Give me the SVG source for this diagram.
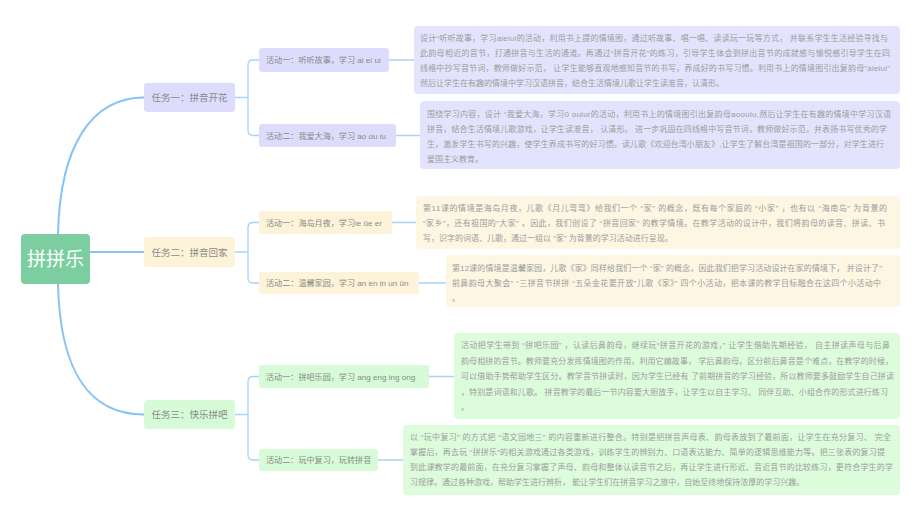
<svg xmlns="http://www.w3.org/2000/svg" width="920" height="518" viewBox="0 0 920 518">
<style>
.t{font-family:"Liberation Sans","Noto Sans CJK SC",sans-serif;}
.note{font-size:8px;fill:#9c9c9c;}
.act{font-size:8.1px;fill:#8a8a8a;}
.task{font-size:9.5px;fill:#8a8a8a;}
.root{font-size:19px;fill:#ffffff;}
.lav{fill:#dedcfd;}
.lavn{fill:#e4e3fd;}
.yel{fill:#fdf3d8;}
.yeln{fill:#fdf6e2;}
.grn{fill:#d6fbd6;}
.grnn{fill:#dcfcdc;}
.main{fill:none;stroke:#86c3f4;stroke-width:2;}
.br{fill:none;stroke:#a9d3f5;stroke-width:1.3;}
</style>
<rect width="920" height="518" fill="#ffffff"/>
<g id="connectors">
<path class="main" d="M58,234 C60,145 92,97.5 144,97.5"/>
<path class="main" d="M90,252 H144"/>
<path class="main" d="M58,284 C60,375 92,414.5 144,414.5"/>
<path class="br" d="M235,97.5 H248 M259,60 H253 Q248,60 248,65 V130.5 Q248,135.5 253,135.5 H259"/>
<path class="br" d="M235,252 H248 M259,222.5 H253 Q248,222.5 248,227.5 V278 Q248,283 253,283 H259"/>
<path class="br" d="M235,414.5 H248 M259,376.5 H253 Q248,376.5 248,381.5 V455 Q248,460 253,460 H259"/>
<path class="br" d="M389,60 H414 M396,135.5 H420 M392,222.5 H416 M419,283 H446 M429,376.5 H454 M378,460 H403"/>
</g>
<g id="root">
<rect x="21" y="234" width="69" height="50" rx="4" fill="#7ccea0"/>
<text class="t root" x="55.5" y="266" text-anchor="middle">拼拼乐</text>
</g>
<g id="task1">
<rect class="lav" x="144" y="83" width="91" height="29" rx="3"/>
<text class="t task" x="189.5" y="101" text-anchor="middle">任务一：拼音开花</text>
</g>
<g id="task2">
<rect class="yel" x="144" y="237" width="91" height="30" rx="3"/>
<text class="t task" x="189.5" y="255.5" text-anchor="middle">任务二：拼音回家</text>
</g>
<g id="task3">
<rect class="grn" x="144" y="400" width="91" height="29" rx="3"/>
<text class="t task" x="189.5" y="418" text-anchor="middle">任务三：快乐拼吧</text>
</g>
<g id="act1-1">
<rect class="lav" x="259" y="48" width="130" height="24" rx="3"/>
<text class="t act" x="266" y="63">活动一：听听故事，学习 ai ei ui</text>
</g>
<g id="act1-2">
<rect class="lav" x="259" y="124" width="137" height="23" rx="3"/>
<text class="t act" x="266" y="138.5">活动二：我爱大海，学习 ao ou iu</text>
</g>
<g id="act2-1">
<rect class="yel" x="259" y="211" width="133" height="23" rx="3"/>
<text class="t act" x="266" y="225.5">活动一：海岛月夜，学习ie üe er</text>
</g>
<g id="act2-2">
<rect class="yel" x="259" y="272" width="160" height="22" rx="3"/>
<text class="t act" x="266" y="286">活动二：温馨家园，学习 an en in un ün</text>
</g>
<g id="act3-1">
<rect class="grn" x="259" y="365" width="170" height="23" rx="3"/>
<text class="t act" x="266" y="379.5">活动一：拼吧乐园，学习 ang eng ing ong</text>
</g>
<g id="act3-2">
<rect class="grn" x="259" y="449" width="119" height="22" rx="3"/>
<text class="t act" x="266" y="463">活动二：玩中复习，玩转拼音</text>
</g>
<g id="note1-1">
<rect class="lavn" x="414" y="26" width="486" height="68" rx="4"/>
<text class="t note" x="420" y="40.5" textLength="468">设计“听听故事，学习aieiui的活动，利用书上提的情境图，通过听故事、唱一唱、读读玩一玩等方式， 并联系学生生活经验寻找与</text>
<text class="t note" x="420" y="55.5" textLength="470">此韵母相近的音节，打通拼音与生活的通道。再通过“拼音开花”的练习，引导学生体会到拼出音节的成就感与愉悦感引导学生在四</text>
<text class="t note" x="420" y="70.5" textLength="470">线格中抄写音节词，教师做好示范， 让学生能够直观地感知音节的书写，养成好的书写习惯。利用书上的情境图引出复韵母"aieiui"</text>
<text class="t note" x="420" y="85.5">然后让学生在有趣的情境中学习汉语拼音，结合生活情境儿歌让学生读准音，认清形。</text>
</g>
<g id="note1-2">
<rect class="lavn" x="420" y="101" width="480" height="68" rx="4"/>
<text class="t note" x="427" y="116.5" textLength="464">围绕学习内容，设计 “我爱大海，学习0 ouiur的活动，利用书上的情境图引出复韵母aoouiu,然后让学生在有趣的情境中学习汉语</text>
<text class="t note" x="427" y="131.5" textLength="460">拼音，结合生活情境儿歌游戏，让学生读准音， 认清形。 进一步巩固在四线格中写音节词，教师做好示范，并表扬书写优秀的学</text>
<text class="t note" x="427" y="146.5" textLength="457">生，激发学生书写的兴趣，使学生养成书写的好习惯。读儿歌《欢迎台湾小朋友》,让学生了解台湾是祖国的一部分，对学生进行</text>
<text class="t note" x="427" y="161.5">爱国主义教育。</text>
</g>
<g id="note2-1">
<rect class="yeln" x="416" y="196" width="484" height="53" rx="4"/>
<text class="t note" x="423" y="211" textLength="464">第11课的情境是海岛月夜，儿歌《月儿弯弯》给我们一个 “家” 的概念，既有每个家庭的 “小家” ，也有以 “海南岛” 为背景的</text>
<text class="t note" x="423" y="226" textLength="462"> “家乡”，还有祖国的“大家” 。因此，我们创设了 “拼音回家” 的教学情境。在教学活动的设计中，我们将韵母的读音、拼读、书</text>
<text class="t note" x="423" y="241">写，识字的词语、儿歌，通过一组以 “家” 为背景的学习活动进行呈现。</text>
</g>
<g id="note2-2">
<rect class="yeln" x="446" y="255" width="454" height="52" rx="4"/>
<text class="t note" x="452" y="271" textLength="430">第12课的情境是温馨家园，儿歌《家》同样给我们一个 “家” 的概念，因此我们把学习活动设计在家的情境下， 并设计了"</text>
<text class="t note" x="452" y="286" textLength="429">前鼻韵母大聚会” “三拼音节拼拼 “五朵金花要开放”儿歌《家》” 四个小活动，把本课的教学目标融合在这四个小活动中</text>
<text class="t note" x="452" y="301">。</text>
</g>
<g id="note3-1">
<rect class="grnn" x="454" y="333" width="446" height="86" rx="4"/>
<text class="t note" x="461" y="348" textLength="429">活动把学生带到 “拼吧乐园” ，认读后鼻韵母，继续玩“拼音开花的游戏，” 让学生借助先期经验， 自主拼读声母与后鼻</text>
<text class="t note" x="461" y="363.5" textLength="432">韵母相拼的音节。教师要充分发挥情境图的作用，利用它编故事， 学后鼻韵母。区分前后鼻音是个难点，在教学的时候，</text>
<text class="t note" x="461" y="379" textLength="433">可以借助手势帮助学生区分。教学音节拼读时，因为学生已经有 了前期拼音的学习经验，所以教师要多鼓励学生自己拼读</text>
<text class="t note" x="461" y="394.5" textLength="427">，特别是词语和儿歌。 拼音教学的最后一节内容要大胆放手，让学生以自主学习、 同伴互助、小组合作的形式进行练习</text>
<text class="t note" x="461" y="410">。</text>
</g>
<g id="note3-2">
<rect class="grnn" x="403" y="425" width="497" height="70" rx="4"/>
<text class="t note" x="410" y="440" textLength="481">以 “玩中复习” 的方式把 “语文园地三” 的内容重新进行整合。特别是把拼音声母表、韵母表放到了最前面，让学生在充分复习、 完全</text>
<text class="t note" x="410" y="455" textLength="475">掌握后，再去玩 “拼拼乐”的相关游戏通过各类游戏，训练学生的辨别力、口语表达能力、简单的逻辑思维能力等。把三张表的复习提</text>
<text class="t note" x="410" y="470" textLength="483">到此课教学的最前面，在充分复习掌握了声母、韵母和整体认读音节之后，再让学生进行形近、音近音节的比较练习，更符合学生的学</text>
<text class="t note" x="410" y="485">习规律。通过各种游戏，帮助学生进行辨析， 能让学生们在拼音学习之旅中，自始至终地保持浓厚的学习兴趣。</text>
</g>
</svg>
